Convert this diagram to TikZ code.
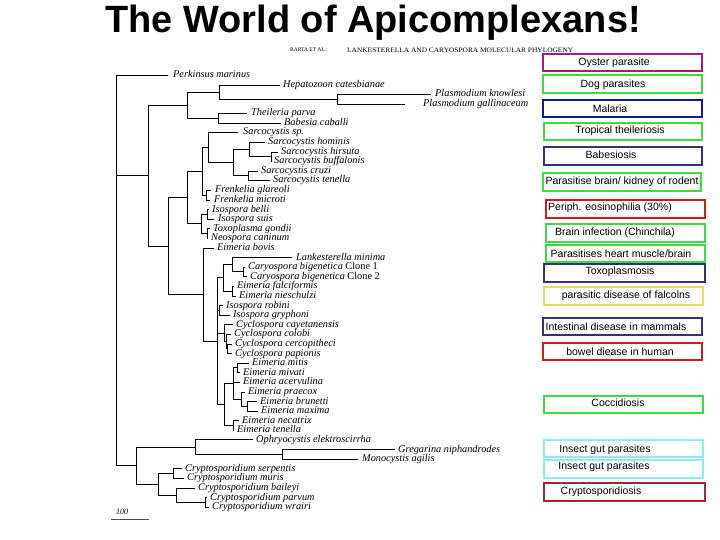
\documentclass[tikz,border=0pt]{standalone}
\usepackage{fontspec}
\setmainfont{Liberation Serif}
\newfontfamily\boxfont{Liberation Sans}
\usetikzlibrary{calc}
\definecolor{cmag}{RGB}{160,30,120}
\definecolor{cgreen}{RGB}{60,220,60}
\definecolor{cnavy}{RGB}{15,25,150}
\definecolor{cslate}{RGB}{50,50,120}
\definecolor{cred}{RGB}{205,30,30}
\definecolor{cyel}{RGB}{235,215,100}
\definecolor{ccyan}{RGB}{140,235,240}
\definecolor{cdred}{RGB}{165,40,45}
\tikzset{
  br/.style={draw=black, line width=0.8pt},
  lab/.style={anchor=west, inner sep=0pt, text height=7pt, text depth=2pt, font=\fontsize{10.3}{11}\selectfont\itshape},
  boxn/.style={draw=#1, line width=2.4pt, fill=white, inner sep=0pt},
  btext/.style={inner sep=0pt, font=\boxfont\fontsize{10.5}{12}\selectfont}
}
\newcommand\leaf[5]{\coordinate (#1) at (#2,#4); \node[lab] (#1l) at (#3,#4) {#5};}
\newcommand\clade[3]{%
  \draw[br] (#1 |- #2) -- (#1 |- #3);
  \draw[br] (#1 |- #2) -- (#2);
  \draw[br] (#1 |- #3) -- (#3);}
\newcommand\extra[2]{\draw[br] (#1 |- #2) -- (#2);}
% name, colour, cx, cy, w, h, text x, text y, text
\newcommand\bx[9]{%
  \node[boxn=#2, minimum width=#5pt, minimum height=#6pt] (#1) at (#3,#4) {};
  \node[btext] (#1t) at (#7,#8) {#9};}
\begin{document}
\begin{tikzpicture}[x=1pt,y=-1pt]
\useasboundingbox (0,0) rectangle (720,540);
\fill[white] (0,0) rectangle (720,540);

% title and running head
\node[font=\boxfont\bfseries\fontsize{38}{42}\selectfont] (title) at (373,23) {The World of Apicomplexans!};
\node[anchor=west, inner sep=0pt, font=\fontsize{5.5}{6}\selectfont] (head1) at (290,50) {BARTA ET AL.};
\node[anchor=west, inner sep=0pt] (head2) at (347,50) {\resizebox{226pt}{4.5pt}{\fontsize{6}{6}\selectfont LANKESTERELLA AND CARYOSPORA MOLECULAR PHYLOGENY}};

% leaves: name, tip x, label x, y, text
\leaf{per}{168}{173}{75}{Perkinsus marinus}
\leaf{hep}{280}{283}{85}{Hepatozoon catesbianae}
\leaf{pkn}{431}{435}{94.5}{Plasmodium knowlesi}
\leaf{pga}{405}{423}{104}{Plasmodium gallinaceum}
\leaf{thp}{247}{251}{113.5}{Theileria parva}
\leaf{bab}{281}{284}{123}{Babesia caballi}
\leaf{ssp}{238}{243}{132.5}{Sarcocystis sp.}
\leaf{sho}{265}{268}{142}{Sarcocystis hominis}
\leaf{shi}{278}{281}{152}{Sarcocystis hirsuta}
\leaf{sbu}{272}{274}{161}{Sarcocystis buffalonis}
\leaf{scr}{258}{261}{171}{Sarcocystis cruzi}
\leaf{ste}{270}{273}{180.5}{Sarcocystis tenella}
\leaf{fgl}{211}{215}{190}{Frenkelia glareoli}
\leaf{fmi}{210}{214}{200}{Frenkelia microti}
\leaf{ibe}{209}{212}{209.5}{Isospora belli}
\leaf{isu}{214}{218}{219}{Isospora suis}
\leaf{tgo}{210}{213}{228.5}{Toxoplasma gondii}
\leaf{nca}{208}{211}{238}{Neospora caninum}
\leaf{ebo}{214}{217}{248}{Eimeria bovis}
\leaf{lmi}{292}{296}{257.5}{Lankesterella minima}
\leaf{cb1}{245}{248}{267}{Caryospora bigenetica {\upshape Clone 1}}
\leaf{cb2}{247}{250}{276.5}{Caryospora bigenetica {\upshape Clone 2}}
\leaf{efa}{234}{237}{286}{Eimeria falciformis}
\leaf{eni}{236}{239}{296}{Eimeria nieschulzi}
\leaf{iro}{223}{226}{305.5}{Isospora robini}
\leaf{igr}{230}{233}{315}{Isospora gryphoni}
\leaf{ccy}{233}{236}{324.5}{Cyclospora cayetanensis}
\leaf{cco}{231}{234}{334}{Cyclospora colobi}
\leaf{cce}{232}{235}{344}{Cyclospora cercopitheci}
\leaf{cpa}{232}{235}{353.5}{Cyclospora papionis}
\leaf{emi}{249}{252}{363}{Eimeria mitis}
\leaf{emv}{240}{243}{372.5}{Eimeria mivati}
\leaf{eac}{240}{243}{382}{Eimeria acervulina}
\leaf{epr}{245}{248}{392}{Eimeria praecox}
\leaf{ebr}{257}{260}{401.5}{Eimeria brunetti}
\leaf{ema}{258}{261}{411}{Eimeria maxima}
\leaf{ene}{239}{242}{420.5}{Eimeria necatrix}
\leaf{ete}{234}{237}{430}{Eimeria tenella}
\leaf{oph}{253}{256}{439.5}{Ophryocystis elektroscirrha}
\leaf{gni}{395}{398}{449.5}{Gregarina niphandrodes}
\leaf{mag}{358}{362}{459}{Monocystis agilis}
\leaf{cse}{182}{185}{468.5}{Cryptosporidium serpentis}
\leaf{cmu}{184}{187}{478}{Cryptosporidium muris}
\leaf{cba}{195}{198}{488}{Cryptosporidium baileyi}
\leaf{cpv}{207}{210}{497.5}{Cryptosporidium parvum}
\leaf{cwr}{209}{212}{507}{Cryptosporidium wrairi}

% internal nodes
\coordinate (PL) at (337,99.25);
\coordinate (HP) at (219,92.1);
\coordinate (TB) at (218,118.25);
\coordinate (B) at (187,105.2);
\coordinate (S4) at (271,156.5);
\coordinate (S3) at (249,149.25);
\coordinate (S5) at (248,175.75);
\coordinate (S2) at (233,162.5);
\coordinate (SS) at (208,147.5);
\coordinate (FR) at (206,195);
\coordinate (SF) at (202,171.25);
\coordinate (IS) at (207,214.25);
\coordinate (TN) at (207,233.25);
\coordinate (IT) at (201,223.75);
\coordinate (D) at (187,197.5);
\coordinate (CA) at (243,271.75);
\coordinate (LC) at (232,264.6);
\coordinate (EF) at (232,291);
\coordinate (LCE) at (223,277.8);
\coordinate (IR) at (219,310.25);
\coordinate (CY3) at (227,348.75);
\coordinate (CY2) at (226,341.4);
\coordinate (CY1) at (224,332.9);
\coordinate (MM) at (237,367.75);
\coordinate (BM) at (247,406.25);
\coordinate (PR) at (241,399.1);
\coordinate (EM) at (233,383.4);
\coordinate (NT) at (233,425.25);
\coordinate (EE) at (224,404.3);
\coordinate (F) at (217,341);
\coordinate (E) at (203,294.5);
\coordinate (C) at (168,246);
\coordinate (A) at (148,175.6);
\coordinate (GM) at (282,454.25);
\coordinate (O) at (195,446.9);
\coordinate (SM) at (173,473.25);
\coordinate (PW) at (205,502.25);
\coordinate (BPW) at (176,495.1);
\coordinate (CR) at (158,484.2);
\coordinate (G) at (136,465.5);
\coordinate (R) at (116,270);

\clade{PL}{pkn}{pga}
\clade{HP}{hep}{PL}
\clade{TB}{thp}{bab}
\clade{B}{HP}{TB}
\clade{S4}{shi}{sbu}
\clade{S3}{sho}{S4}
\clade{S5}{scr}{ste}
\clade{S2}{S3}{S5}
\clade{SS}{ssp}{S2}
\clade{FR}{fgl}{fmi}
\clade{SF}{SS}{FR}
\clade{IS}{ibe}{isu}
\clade{TN}{tgo}{nca}
\clade{IT}{IS}{TN}
\clade{D}{SF}{IT}
\clade{CA}{cb1}{cb2}
\clade{LC}{lmi}{CA}
\clade{EF}{efa}{eni}
\clade{LCE}{LC}{EF}
\clade{IR}{iro}{igr}
\clade{CY3}{cce}{cpa}
\clade{CY2}{cco}{CY3}
\clade{CY1}{ccy}{CY2}
\clade{MM}{emi}{emv}
\clade{BM}{ebr}{ema}
\clade{PR}{epr}{BM}
\clade{EM}{MM}{PR}
\extra{EM}{eac}
\clade{NT}{ene}{ete}
\clade{EE}{EM}{NT}
\clade{F}{LCE}{EE}
\extra{F}{IR}
\extra{F}{CY1}
\clade{E}{ebo}{F}
\clade{C}{D}{E}
\clade{A}{B}{C}
\clade{GM}{gni}{mag}
\clade{O}{oph}{GM}
\clade{SM}{cse}{cmu}
\clade{PW}{cpv}{cwr}
\clade{BPW}{cba}{PW}
\clade{CR}{SM}{BPW}
\clade{G}{O}{CR}
\clade{R}{per}{G}
\extra{R}{A}

% scale bar
\coordinate (sb1) at (111,519);
\coordinate (sb2) at (149,519);
\draw[line width=0.6pt, black!70] (sb1) -- (sb2);
\node[inner sep=0pt, font=\fontsize{8}{9}\selectfont\itshape] (sbl) at (122,512) {100};

% disease boxes
\bx{b1}{cmag}{622.5}{62.5}{159}{17}{614}{63}{Oyster parasite}
\bx{b2}{cgreen}{622.5}{84}{159}{18}{613}{84.5}{Dog parasites}
\bx{b3}{cnavy}{622.5}{108.5}{159}{17}{610}{108.5}{Malaria}
\bx{b4}{cgreen}{623}{131.5}{158}{17}{620}{131}{Tropical theileriosis}
\bx{b5}{cslate}{623}{156}{158}{18}{611}{155}{Babesiosis}
\bx{b6}{cgreen}{622}{182}{158}{18}{622}{182}{Parasitise brain/ kidney of rodent}
\bx{b7}{cred}{625.5}{209}{159}{18}{610}{207.5}{Periph. eosinophilia (30\%)}
\bx{b8}{cgreen}{625.5}{233}{159}{18}{615}{233}{Brain infection (Chinchila)}
\bx{b9}{cgreen}{625.5}{253.5}{159}{17}{621}{253.5}{Parasitises heart muscle/brain}
\bx{b10}{cslate}{624.5}{273}{161}{18}{620}{272}{Toxoplasmosis}
\bx{b11}{cyel}{623.5}{296}{159}{18}{626}{295.5}{parasitic disease of falcolns}
\bx{b12}{cslate}{622.5}{326.5}{159}{17}{616}{326.5}{Intestinal disease in mammals}
\bx{b13}{cred}{622.5}{351.5}{159}{17}{620}{352}{bowel diease in human}
\bx{b14}{cgreen}{623.5}{404.5}{159}{17}{618}{403}{Coccidiosis}
\bx{b15}{ccyan}{623.5}{448.5}{159}{17}{605}{450}{Insect gut parasites}
\bx{b16}{ccyan}{623.5}{469}{159}{18}{604}{467}{Insect gut parasites}
\bx{b17}{cdred}{624.5}{492}{161}{18}{601}{492}{Cryptosporidiosis}
\end{tikzpicture}
\end{document}
